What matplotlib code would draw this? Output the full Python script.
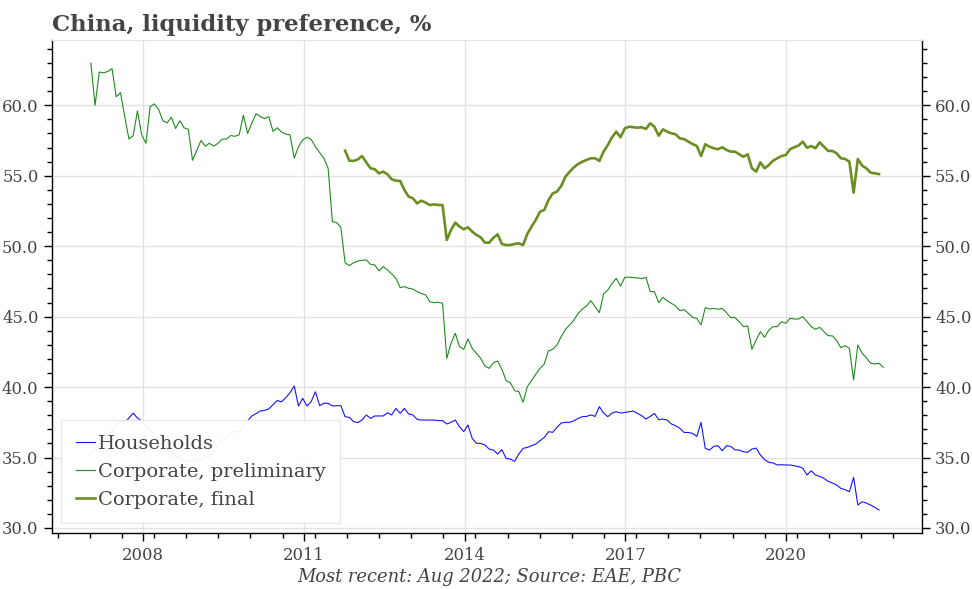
import numpy as np
import matplotlib.pyplot as plt
from matplotlib.ticker import MultipleLocator, FormatStrFormatter

# monthly readings, first point at the left end of the lines
households = [
    35.3, 35.6, 35.9, 36.3, 36.6, 36.9, 37.2, 37.6, 37.5, 37.8,
    38.15, 37.8, 37.6, 37.2, 36.9, 36.5, 36.2, 35.9, 35.6, 35.4,
    35.1, 34.9, 34.75, 34.8, 34.7, 34.85, 34.8, 35.0, 35.1, 35.4,
    35.9, 36.2, 36.5, 36.7, 36.9, 36.8, 37.2, 37.6, 37.95, 38.12,
    38.3, 38.35, 38.45, 38.75, 39.05, 38.95, 39.25, 39.6, 40.08, 38.66,
    39.2, 38.66, 38.97, 39.67, 38.68, 38.85, 38.85, 38.66, 38.68, 38.68,
    37.9, 37.85, 37.55, 37.48, 37.66, 38.02, 37.78, 37.95, 37.95, 37.95,
    38.18, 38.02, 38.49, 38.14, 38.49, 38.09, 38.02, 37.71, 37.66, 37.66,
    37.66, 37.66, 37.62, 37.62, 37.38, 37.5, 37.66, 37.19, 36.84, 37.31,
    36.36, 36.01, 36.0, 35.89, 35.6, 35.53, 35.25, 35.55, 34.94, 34.89,
    34.73, 35.25, 35.65, 35.72, 35.84, 35.96, 36.19, 36.43, 36.83, 36.79,
    37.14, 37.45, 37.5, 37.5, 37.61, 37.78, 37.9, 37.92, 38.02, 37.92,
    38.61, 38.16, 37.9, 38.16, 38.25, 38.16, 38.2, 38.25, 38.3, 38.13,
    37.97, 37.73, 37.92, 38.13, 37.68, 37.73, 37.66, 37.38, 37.26, 37.07,
    36.78, 36.78, 36.71, 36.5, 37.5, 35.65, 35.53, 35.79, 35.84, 35.48,
    35.84, 35.79, 35.55, 35.53, 35.41, 35.37, 35.6, 35.67, 35.18, 34.85,
    34.66, 34.61, 34.47, 34.49, 34.47, 34.47, 34.42, 34.35, 34.25, 33.76,
    34.06, 33.76, 33.66, 33.52, 33.31, 33.19, 33.05, 32.81, 32.72, 32.57,
    33.59, 31.63, 31.86, 31.77, 31.63, 31.46, 31.27,
]

corp_prelim = [
    63.0, 60.0, 62.36, 62.3, 62.4, 62.6, 60.6, 60.9, 59.2, 57.6,
    57.85, 59.6, 57.9, 57.3, 59.9, 60.1, 59.7, 58.9, 58.75, 59.15,
    58.35, 58.9, 58.4, 58.3, 56.1, 56.8, 57.5, 57.1, 57.3, 57.1,
    57.3, 57.6, 57.6, 57.85, 57.8, 57.9, 59.3, 58.0, 58.75, 59.4,
    59.2, 59.05, 59.2, 58.15, 58.4, 58.1, 57.95, 57.9, 56.25, 57.06,
    57.54, 57.73, 57.58, 57.06, 56.64, 56.24, 55.53, 51.74, 51.67, 51.34,
    48.83, 48.62, 48.83, 48.95, 49.0, 49.02, 48.71, 48.67, 48.24, 48.55,
    48.31, 48.03, 47.72, 47.06, 47.13, 47.01, 46.96, 46.77, 46.65, 46.54,
    46.06, 45.99, 46.02, 45.95, 42.04, 43.11, 43.82, 42.87, 42.68, 43.41,
    42.75, 42.4, 42.04, 41.5, 41.33, 41.73, 41.85, 41.26, 40.46, 40.31,
    39.75, 39.68, 38.92, 40.03, 40.46, 40.91, 41.33, 41.64, 42.58, 42.68,
    42.99, 43.58, 44.1, 44.41, 44.76, 45.23, 45.54, 45.76, 46.13, 45.71,
    45.28, 46.61, 46.89, 47.36, 47.72, 47.17, 47.79, 47.8, 47.77, 47.75,
    47.7, 47.79, 46.77, 46.77, 45.99, 46.37, 46.13, 45.94, 45.76, 45.42,
    45.5, 45.24, 44.95, 44.88, 44.41, 45.64, 45.54, 45.59, 45.52, 45.59,
    45.28, 44.93, 44.93, 44.64, 44.29, 44.34, 42.68, 43.34, 43.93, 43.53,
    44.05, 44.29, 44.29, 44.64, 44.53, 44.88, 44.83, 44.83, 45.0, 44.64,
    44.29, 44.1, 44.24, 43.93, 43.65, 43.63, 43.3, 42.8, 42.94, 42.75,
    40.5, 42.99, 42.4, 42.09, 41.69, 41.64, 41.69, 41.4,
]

# final series starts 60 months after the others
corp_final_offset = 60
corp_final = [
    56.78, 56.07, 56.05, 56.16, 56.4, 55.95, 55.53, 55.46, 55.17, 55.29,
    55.1, 54.75, 54.65, 54.63, 53.99, 53.52, 53.4, 53.04, 53.23, 53.09,
    52.92, 52.97, 52.92, 52.92, 50.44, 51.15, 51.67, 51.39, 51.2, 51.34,
    51.03, 50.8, 50.63, 50.25, 50.25, 50.6, 50.84, 50.16, 50.08, 50.08,
    50.16, 50.2, 50.08, 50.87, 51.39, 51.86, 52.45, 52.57, 53.28, 53.75,
    53.87, 54.27, 54.93, 55.29, 55.6, 55.83, 56.0, 56.12, 56.24, 56.24,
    56.05, 56.71, 57.18, 57.73, 58.13, 57.73, 58.36, 58.48, 58.44, 58.41,
    58.44, 58.32, 58.72, 58.48, 57.84, 58.29, 58.13, 58.01, 57.94, 57.65,
    57.6, 57.42, 57.25, 57.11, 56.4, 57.23, 57.06, 56.95, 56.88, 57.02,
    56.83, 56.71, 56.71, 56.52, 56.35, 56.52, 55.53, 55.29, 55.95, 55.53,
    55.76, 56.07, 56.24, 56.4, 56.47, 56.88, 57.02, 57.14, 57.42, 56.99,
    57.11, 56.95, 57.37, 57.06, 56.76, 56.76, 56.59, 56.24, 56.19, 56.0,
    53.8, 56.19, 55.72, 55.53, 55.22, 55.17, 55.12,
]

year_ticks = [2008, 2011, 2014, 2017, 2020]

# the axis labels run a little faster than one tick per 12 points
X_START = 2007.02
X_STEP = 0.0791

def xpos(n, offset=0):
    return X_START + (np.arange(n) + offset) * X_STEP

TEXT = '#444444'
GRID = '#e3e3e3'
SERIF = 'DejaVu Serif'

plt.rcParams['font.family'] = SERIF

fig = plt.figure(figsize=(9.72, 5.89), dpi=100)
ax = fig.add_axes([0.0532, 0.0951, 0.8951, 0.8362])

ax.plot(xpos(len(households)), households, color='#1414ff', lw=0.8,
        label='Households')
ax.plot(xpos(len(corp_prelim)), corp_prelim, color='#1e8c1e', lw=0.8,
        label='Corporate, preliminary')
ax.plot(xpos(len(corp_final), corp_final_offset), corp_final,
        color='#6b8e23', lw=1.9, label='Corporate, final')

ax.set_xlim(2006.29, 2022.53)
ax.set_ylim(29.645, 64.6)

ax.set_xticks(year_ticks)
ax.set_xticklabels([str(y) for y in year_ticks])
ax.xaxis.set_minor_locator(MultipleLocator(0.6))
ax.yaxis.set_major_locator(MultipleLocator(5))
ax.yaxis.set_minor_locator(MultipleLocator(1))
ax.yaxis.set_major_formatter(FormatStrFormatter('%.1f'))

ax.tick_params(axis='both', which='major', length=6, width=1,
               labelsize=11.8, labelcolor=TEXT)
ax.tick_params(axis='both', which='minor', length=3.3, width=1)
ax.tick_params(axis='y', which='both', right=True, labelright=True)
ax.tick_params(axis='y', which='major', pad=3.5)
ax.tick_params(axis='x', which='major', pad=4)

ax.grid(True, which='major', color=GRID, lw=1)
ax.set_axisbelow(True)
ax.spines['top'].set_color(GRID)
for s in ('left', 'right', 'bottom'):
    ax.spines[s].set_linewidth(1)

leg = ax.legend(loc='lower left', fontsize=14.0, frameon=True,
                fancybox=False, handlelength=1.0, handletextpad=0.15,
                borderaxespad=0.5, labelspacing=0.52, borderpad=0.74)
leg.get_frame().set_edgecolor('#e8e8e8')
leg.get_frame().set_facecolor('white')
leg.get_frame().set_alpha(0.95)
for t in leg.get_texts():
    t.set_color(TEXT)

fig.text(52 / 972, 1 - 31.5 / 589, 'China, liquidity preference, %',
         fontsize=16.4, fontweight='bold', color=TEXT, va='baseline',
         ha='left')
fig.text(489 / 972, 1 - 577 / 589,
         'Most recent: Aug 2022; Source: EAE, PBC',
         fontsize=12.9, style='italic', color=TEXT, ha='center', va='center')

fig.savefig('out.png', dpi=100)
